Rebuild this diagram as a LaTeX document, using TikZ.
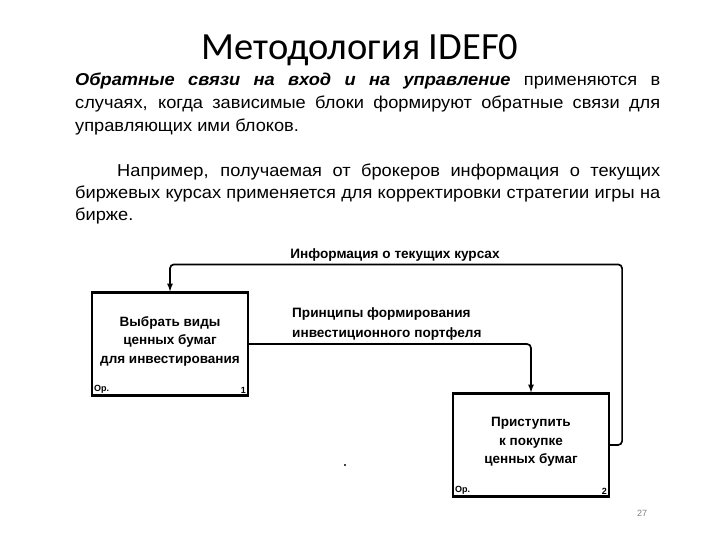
\documentclass[tikz,border=0pt]{standalone}
\usepackage{fontspec}
\setmainfont{Liberation Sans}
\newfontfamily\titlefont{Carlito}
\newfontfamily\bodyfont[FakeStretch=1.06]{Liberation Sans}
\usetikzlibrary{calc}
\tikzset{>=latex}
\tikzset{
  block/.style = {draw, line width=2.2pt, minimum width=156pt, minimum height=103pt,
                  inner sep=0pt, align=center, font=\bfseries\fontsize{13.5}{18.5}\selectfont},
  flow/.style = {->, line width=1.7pt, rounded corners=4pt},
  flowlabel/.style = {font=\bfseries\fontsize{13.6}{20}\selectfont, inner sep=0pt, align=left},
  corner/.style = {font=\bfseries\fontsize{9}{10}\selectfont, inner sep=1pt},
  textline/.style = {anchor=base west, inner sep=0pt, font=\bodyfont\fontsize{17.2}{22}\selectfont}
}
\newcommand{\fullline}[1]{\makebox[585pt][s]{#1}}

\begin{document}
\begin{tikzpicture}[x=1pt,y=-1pt]
  \useasboundingbox (0,0) rectangle (720,540);
  % title
  \node[anchor=base, inner sep=0pt] (title) at (360,60)
    {\titlefont\fontsize{38.5}{42}\selectfont Методология IDEF0};
  % text
  \node[textline] (line1) at (75,86)
    {\fullline{{\bfseries\itshape Обратные связи на вход и на управление} применяются в}};
  \node[textline] (line2) at (75,109)
    {\fullline{случаях, когда зависимые блоки формируют обратные связи для}};
  \node[textline] (line3) at (75,132) {управляющих ими блоков.};
  \node[textline] (line4) at (75,177)
    {\fullline{\hspace*{42pt}Например, получаемая от брокеров информация о текущих}};
  \node[textline] (line5) at (75,199)
    {\fullline{биржевых курсах применяется для корректировки стратегии игры на}};
  \node[textline] (line6) at (75,221) {бирже.};
  % blocks
  \node[block] (select) at (170,344) {Выбрать виды\\ценных бумаг\\для инвестирования\\[-10pt]};
  \node[block] (buy) at (531,445) {Приступить\\к покупке\\ценных бумаг\\[-10pt]};
  \node[corner, anchor=south west] (select-op) at ($(select.south west)+(2,-2)$) {Ор.};
  \node[corner, anchor=south east] (select-no) at ($(select.south east)+(-2,-2)$) {1};
  \node[corner, anchor=south west] (buy-op) at ($(buy.south west)+(2,-2)$) {Ор.};
  \node[corner, anchor=south east] (buy-no) at ($(buy.south east)+(-2,-2)$) {2};
  % arrows
  \draw[flow] (buy.east) -- ++(12,0) |- ($(select.north)+(0,-27)$) -- (select.north);
  \node[flowlabel] (info) at (395,255) {Информация о текущих курсах};
  \draw[flow] (select.east) -| (buy.north);
  \node[flowlabel, anchor=south west] (rules) at (292,341)
    {Принципы формирования\\инвестиционного портфеля};
  % stray dot
  \fill (345,465) circle (1.2);
  % page number
  \node[text=gray, font=\fontsize{9}{10}\selectfont] (page) at (642,513) {27};
\end{tikzpicture}
\end{document}
